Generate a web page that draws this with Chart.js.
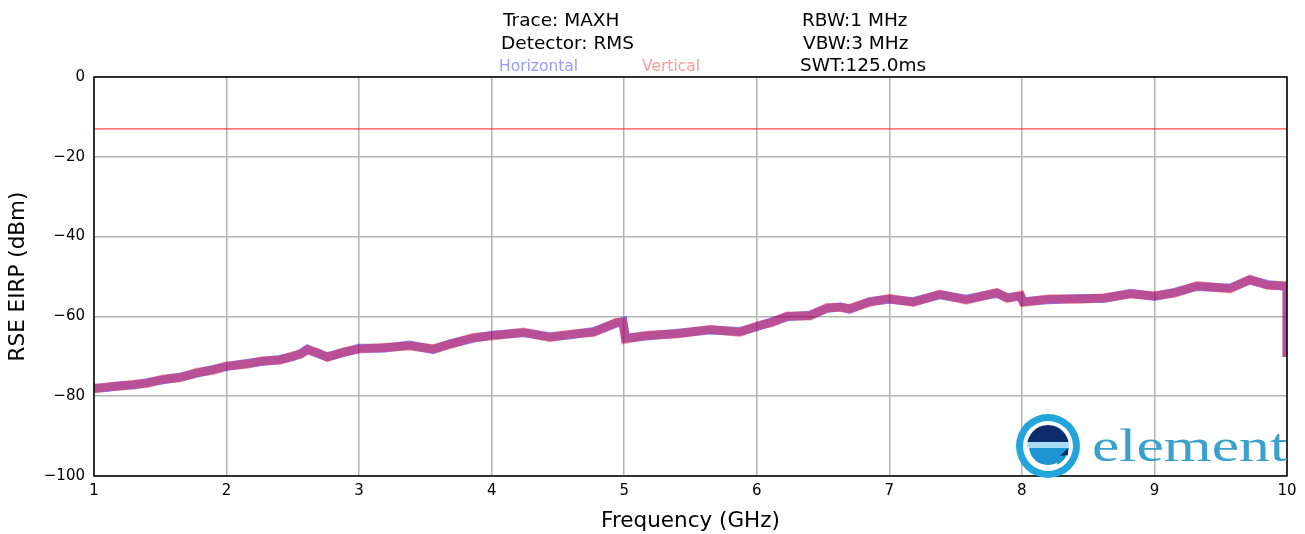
<!DOCTYPE html>
<html>
<head>
<meta charset="utf-8">
<script src="https://cdn.jsdelivr.net/npm/chart.js@4.4.1/dist/chart.umd.min.js"></script>
<style>
  html, body { margin: 0; padding: 0; background: #ffffff; }
  #wrap { width: 1305px; height: 534px; }
</style>
</head>
<body>
<div id="wrap"><canvas id="c" width="1305" height="534"></canvas></div>
<script>
// ---- data ----
const freqGHz = [1.00,1.10,1.20,1.30,1.40,1.52,1.65,1.78,1.90,2.00,2.15,2.27,2.40,2.50,2.56,2.61,2.68,2.76,2.88,3.00,3.18,3.38,3.56,3.69,3.86,4.00,4.24,4.44,4.57,4.77,4.94,4.99,5.01,5.17,5.40,5.65,5.87,6.00,6.12,6.23,6.40,6.53,6.63,6.70,6.85,7.00,7.18,7.38,7.58,7.81,7.89,7.99,8.01,8.20,8.44,8.62,8.82,9.00,9.15,9.32,9.57,9.72,9.85,10.00,10.00];
const horizontal = [-78.0,-77.8,-77.3,-77.2,-76.6,-75.9,-75.2,-74.2,-73.3,-72.6,-71.8,-71.3,-70.8,-70.1,-69.3,-68.2,-69.2,-70.1,-69.1,-68.0,-68.0,-67.2,-68.3,-66.8,-65.5,-64.7,-64.1,-65.1,-64.7,-63.8,-61.7,-61.3,-65.5,-64.9,-64.2,-63.4,-63.8,-62.6,-61.3,-60.1,-59.7,-58.0,-57.6,-58.2,-56.3,-55.7,-56.3,-54.6,-55.7,-54.2,-55.3,-54.9,-56.3,-55.8,-55.5,-55.5,-54.2,-55.0,-54.0,-52.5,-52.9,-50.9,-52.0,-52.5,-70.2];
const vertical = [-78.2,-77.6,-77.5,-77.0,-76.8,-75.7,-75.4,-74.0,-73.5,-72.4,-72.0,-71.1,-71.0,-69.9,-69.5,-68.4,-69.0,-70.3,-68.9,-68.2,-67.8,-67.4,-68.1,-67.0,-65.3,-64.9,-63.9,-65.3,-64.5,-64.0,-61.5,-61.5,-65.7,-64.7,-64.4,-63.2,-64.0,-62.4,-61.5,-59.9,-59.9,-57.8,-57.8,-58.0,-56.5,-55.5,-56.5,-54.4,-55.9,-54.0,-55.5,-54.7,-56.5,-55.6,-55.7,-55.3,-54.4,-54.8,-54.2,-52.3,-53.1,-50.7,-52.2,-52.3,-70.2];
const limitFreq = [1, 10];
const limitLevel = [-13, -13];
const xTicks = [1,2,3,4,5,6,7,8,9,10];
const yTicks = [0,-20,-40,-60,-80,-100];
const headerLeft = ['Trace: MAXH', 'Detector: RMS'];
const headerRight = ['RBW:1 MHz', 'VBW:3 MHz', 'SWT:125.0ms'];
const seriesNames = ['Horizontal', 'Vertical'];

const toPts = (xs, ys) => xs.map((x, i) => ({ x: x, y: ys[i] }));
const FONT = "'DejaVu Sans', sans-serif";

const decor = {
  id: 'decor',
  afterDraw(chart) {
    const ctx = chart.ctx;
    const a = chart.chartArea;
    ctx.save();
    // frame
    ctx.strokeStyle = '#000';
    ctx.lineWidth = 1.5;
    ctx.strokeRect(a.left, a.top, a.right - a.left, a.bottom - a.top);

    // header texts
    ctx.textBaseline = 'middle';
    ctx.textAlign = 'left';
    ctx.fillStyle = '#000';
    ctx.font = '18.5px ' + FONT;
    ctx.fillText(headerLeft[0], 503, 21);
    ctx.fillText(headerLeft[1], 501, 44);
    ctx.fillText(headerRight[0], 802, 21);
    ctx.fillText(headerRight[1], 803, 44);
    ctx.fillText(headerRight[2], 800, 66);
    ctx.font = '15.5px ' + FONT;
    ctx.fillStyle = '#9a9aff';
    ctx.fillText(seriesNames[0], 499, 67);
    ctx.fillStyle = '#ff9a9a';
    ctx.fillText(seriesNames[1], 642, 67);

    // logo
    const cx = 1048, cy = 446;
    ctx.fillStyle = '#23a5dc';
    ctx.beginPath(); ctx.arc(cx, cy, 32, 0, Math.PI * 2); ctx.fill();
    ctx.fillStyle = '#ffffff';
    ctx.beginPath(); ctx.arc(cx, cy, 25, 0, Math.PI * 2); ctx.fill();
    ctx.save();
    ctx.beginPath(); ctx.arc(cx, cy, 21, 0, Math.PI * 2); ctx.clip();
    ctx.fillStyle = '#0c2c6c';
    ctx.fillRect(cx - 25, cy - 25, 50, 21);
    ctx.fillStyle = '#a9dcf4';
    ctx.fillRect(cx - 25, cy - 4, 50, 6);
    ctx.fillStyle = '#1e95d2';
    ctx.fillRect(cx - 25, cy + 2, 50, 25);
    ctx.restore();
    ctx.strokeStyle = '#ffffff';
    ctx.lineWidth = 4;
    ctx.beginPath(); ctx.arc(cx, cy, 21, Math.PI * 0.35, Math.PI * 0.98); ctx.stroke();
    ctx.fillStyle = '#0c2c6c';
    ctx.beginPath(); ctx.moveTo(cx + 20, cy + 2); ctx.lineTo(cx + 12, cy + 10); ctx.lineTo(cx + 20, cy + 9); ctx.closePath(); ctx.fill();

    ctx.fillStyle = '#3aa0cc';
    ctx.textBaseline = 'alphabetic';
    ctx.font = "46px 'Liberation Serif', serif";
    const w = ctx.measureText('element').width;
    ctx.save();
    ctx.translate(1092, 461);
    ctx.scale(195 / w, 1);
    ctx.fillText('element', 0, 0);
    ctx.restore();
    ctx.restore();
  }
};

const minus = v => (v < 0 ? '\u2212' + Math.abs(v) : String(v));

new Chart(document.getElementById('c'), {
  type: 'line',
  data: {
    datasets: [
      { label: seriesNames[0], order: 2, data: toPts(freqGHz, horizontal), borderColor: 'rgba(0,0,255,0.47)', borderWidth: 9, pointRadius: 0, tension: 0, fill: false },
      { label: seriesNames[1], order: 1, data: toPts(freqGHz, vertical), borderColor: 'rgba(255,0,0,0.41)', borderWidth: 9, pointRadius: 0, tension: 0, fill: false },
      { label: 'Limit', order: 0, data: toPts(limitFreq, limitLevel), borderColor: 'rgba(255,40,40,0.85)', borderWidth: 1.3, pointRadius: 0, fill: false }
    ]
  },
  options: {
    responsive: false,
    animation: false,
    devicePixelRatio: 1,
    layout: { padding: { top: 77, right: 18, left: 0, bottom: 0 } },
    plugins: { legend: { display: false }, tooltip: { enabled: false } },
    scales: {
      x: {
        type: 'linear', min: 1, max: 10,
        afterFit: s => { s.height = 58; },
        afterBuildTicks: s => { s.ticks = xTicks.map(v => ({ value: v })); },
        grid: { color: '#b3b3b3', lineWidth: 1.5, drawTicks: false },
        border: { display: false },
        ticks: { color: '#000', padding: 6, font: { family: FONT, size: 15 }, maxRotation: 0, callback: v => String(v) },
        title: { display: true, text: 'Frequency (GHz)', color: '#000', font: { family: FONT, size: 21.5 }, padding: { top: 0, bottom: 0 } }
      },
      y: {
        type: 'linear', min: -100, max: 0,
        afterFit: s => { s.width = 94; },
        afterBuildTicks: s => { s.ticks = yTicks.map(v => ({ value: v })); },
        grid: { color: '#b3b3b3', lineWidth: 1.5, drawTicks: false },
        border: { display: false },
        ticks: { color: '#000', padding: 9, font: { family: FONT, size: 15 }, callback: v => minus(v) },
        title: { display: true, text: 'RSE EIRP (dBm)', color: '#000', font: { family: FONT, size: 21.5 }, padding: { top: 6, bottom: 0 } }
      }
    }
  },
  plugins: [decor]
});
</script>
</body>
</html>
